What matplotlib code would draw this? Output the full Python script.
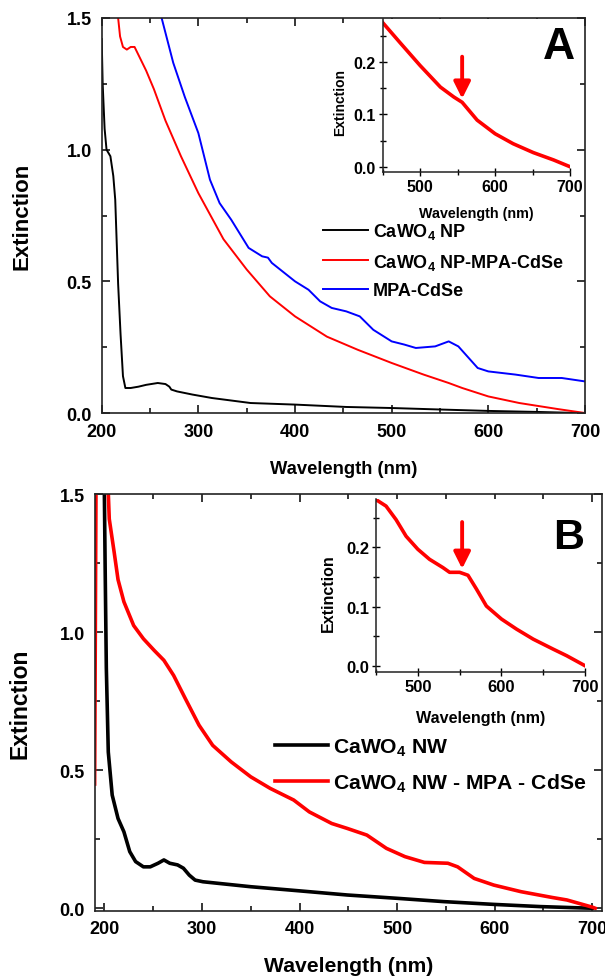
import matplotlib
matplotlib.use("Agg")
import matplotlib.pyplot as plt
from matplotlib.ticker import MultipleLocator

plt.rcParams['font.family'] = ['Liberation Sans', 'DejaVu Sans']
plt.rcParams['font.weight'] = 'bold'
plt.rcParams['axes.labelweight'] = 'bold'
plt.rcParams['mathtext.fontset'] = 'custom'
plt.rcParams['mathtext.rm'] = 'Liberation Sans:bold'
plt.rcParams['mathtext.it'] = 'Liberation Sans:bold'
plt.rcParams['mathtext.bf'] = 'Liberation Sans:bold'

# ---------------- Panel A data ----------------
wl_np = [200, 201, 203, 205, 209, 212, 214, 217, 219.5, 222, 224.5, 230, 238, 246, 258,
         266, 270, 272, 278, 294, 314, 354, 400, 453, 500, 553, 600, 652, 684, 700]
ext_np = [1.42, 1.25, 1.08, 1.0, 0.975, 0.9, 0.81, 0.49, 0.30, 0.14, 0.095, 0.095, 0.10, 0.107, 0.114,
          0.11, 0.10, 0.089, 0.082, 0.07, 0.057, 0.038, 0.032, 0.023, 0.019, 0.013, 0.008, 0.004, 0.001, 0.0]

wl_npcd = [212, 215, 217, 219, 222, 226, 230, 234, 238, 246, 254, 266, 282, 300, 326, 350, 374,
           400, 433, 465, 500, 533, 559, 573, 600, 632, 672, 700]
ext_npcd = [1.8, 1.6, 1.5, 1.43, 1.39, 1.38, 1.39, 1.39, 1.36, 1.30, 1.23, 1.11, 0.975, 0.835, 0.66,
            0.545, 0.443, 0.367, 0.29, 0.24, 0.19, 0.146, 0.114, 0.095, 0.063, 0.038, 0.015, 0.0]

wl_cdse = [255, 262, 274, 286, 300, 312, 322, 334, 352, 366, 372, 376, 400, 414, 426, 438, 453, 467,
           481, 500, 513, 525, 545, 559, 569, 589, 600, 628, 652, 676, 700]
ext_cdse = [1.6, 1.5, 1.33, 1.2, 1.063, 0.886, 0.797, 0.734, 0.627, 0.595, 0.59, 0.57, 0.50, 0.468,
            0.424, 0.399, 0.386, 0.367, 0.316, 0.272, 0.26, 0.247, 0.253, 0.272, 0.253, 0.171, 0.158,
            0.146, 0.133, 0.133, 0.12]

wl_ia = [450, 473, 500, 527, 545, 556, 576, 600, 624, 651, 678, 700]
ext_ia = [0.275, 0.237, 0.193, 0.152, 0.133, 0.123, 0.089, 0.063, 0.044, 0.027, 0.013, 0.0]
arrow_a = (556, 0.21, 0.13)

labels_a = ['CaWO$_\\mathrm{4}$ NP', 'CaWO$_\\mathrm{4}$ NP-MPA-CdSe', 'MPA-CdSe']

# ---------------- Panel B data ----------------
wl_nw = [199, 200, 200.8, 202, 204, 208, 214, 220, 226, 232, 240, 247, 255, 261, 267, 275, 281,
         287, 293, 301, 350, 400, 449, 500, 548, 599, 647, 700]
ext_nw = [1.7, 1.5, 1.23, 0.87, 0.566, 0.41, 0.325, 0.277, 0.205, 0.169, 0.15, 0.15, 0.163, 0.175,
          0.163, 0.157, 0.145, 0.12, 0.102, 0.096, 0.078, 0.063, 0.048, 0.036, 0.024, 0.014, 0.006, 0.0]

wl_nwcd = [190, 191.5, 193, 203, 205, 210, 214, 220, 230, 240, 251, 261, 271, 283, 297, 311, 330,
           350, 370, 394, 410, 433, 449, 469, 489, 508, 528, 552, 562, 579, 599, 627, 659, 674, 700, 703]
ext_nwcd = [0.45, 1.6, 1.7, 1.6, 1.41, 1.29, 1.19, 1.11, 1.024, 0.976, 0.934, 0.898, 0.843, 0.759,
            0.663, 0.59, 0.53, 0.476, 0.434, 0.392, 0.349, 0.307, 0.289, 0.265, 0.217, 0.187, 0.166,
            0.163, 0.15, 0.108, 0.084, 0.06, 0.039, 0.03, 0.004, 0.0]

wl_ib = [451, 462, 474, 486, 500, 514, 530, 538, 550, 560, 570, 582, 600, 618, 638, 662, 678, 700]
ext_ib = [0.28, 0.27, 0.247, 0.219, 0.197, 0.18, 0.166, 0.158, 0.158, 0.153, 0.13, 0.101, 0.079,
          0.062, 0.045, 0.028, 0.017, 0.0]
arrow_b = (553, 0.243, 0.164)

labels_b = ['CaWO$_\\mathrm{4}$ NW', 'CaWO$_\\mathrm{4}$ NW - MPA - CdSe']

RED = '#ff0000'
BLUE = '#0000ff'

fig = plt.figure(figsize=(6.05, 9.79), dpi=100)


def style_main(ax, ls):
    ax.xaxis.set_major_locator(MultipleLocator(100))
    ax.xaxis.set_minor_locator(MultipleLocator(50))
    ax.yaxis.set_major_locator(MultipleLocator(0.5))
    ax.yaxis.set_minor_locator(MultipleLocator(0.25))
    ax.tick_params(which='both', direction='in', top=True, right=True, width=1.1)
    ax.tick_params(which='major', length=6, labelsize=ls, pad=7)
    ax.tick_params(which='minor', length=3.5)
    for s in ax.spines.values():
        s.set_linewidth(1.2)
        s.set_color('#222222')


def style_inset(ax, ls):
    ax.spines['top'].set_visible(False)
    ax.spines['right'].set_visible(False)
    for s in ['left', 'bottom']:
        ax.spines[s].set_linewidth(1.1)
        ax.spines[s].set_color('#222222')
    ax.set_xlim(450, 700)
    ax.set_ylim(-0.01, 0.282)
    ax.xaxis.set_major_locator(MultipleLocator(100))
    ax.xaxis.set_minor_locator(MultipleLocator(50))
    ax.yaxis.set_major_locator(MultipleLocator(0.1))
    ax.yaxis.set_minor_locator(MultipleLocator(0.05))
    ax.tick_params(which='both', direction='inout', width=1.0)
    ax.tick_params(which='major', length=6, labelsize=ls, pad=2)
    ax.tick_params(which='minor', length=4)
    ax.set_facecolor('white')


# ---------------- Panel A ----------------
axA = fig.add_axes([0.1681, 0.5771, 0.7988, 0.4035])
axA.plot(wl_np, ext_np, color='black', lw=1.4, label=labels_a[0])
axA.plot(wl_npcd, ext_npcd, color=RED, lw=1.4, label=labels_a[1])
axA.plot(wl_cdse, ext_cdse, color=BLUE, lw=1.4, label=labels_a[2])
axA.set_xlim(200, 700)
axA.set_ylim(0, 1.5)
style_main(axA, 13)
axA.set_xlabel('Wavelength (nm)', fontsize=13.2)
axA.set_ylabel('Extinction', fontsize=16)
axA.xaxis.set_label_coords(0.5, -0.119)
axA.yaxis.set_label_coords(-0.144, 0.5)
axA.legend(loc='upper left', bbox_to_anchor=(0.458, 0.485), frameon=False, fontsize=13,
           handlelength=2.5, handletextpad=0.25, labelspacing=0.57, borderpad=0, borderaxespad=0)

insA = fig.add_axes([0.6326, 0.8233, 0.3096, 0.1563])
insA.plot(wl_ia, ext_ia, color=RED, lw=2.6)
style_inset(insA, 11.5)
insA.set_xlabel('Wavelength (nm)', fontsize=10.3)
insA.set_ylabel('Extinction', fontsize=10)
insA.xaxis.set_label_coords(0.5, -0.222)
insA.yaxis.set_label_coords(-0.19, 0.46)
insA.annotate('', xy=(arrow_a[0], arrow_a[2]), xytext=(arrow_a[0], arrow_a[1]),
              arrowprops=dict(arrowstyle='-|>,head_width=0.5,head_length=1.0', color=RED, lw=2.8,
                              shrinkA=0, shrinkB=0))

# ---------------- Panel B ----------------
axB = fig.add_axes([0.1564, 0.0687, 0.8387, 0.4256])
axB.plot(wl_nw, ext_nw, color='black', lw=2.6, label=labels_b[0])
axB.plot(wl_nwcd, ext_nwcd, color=RED, lw=2.6, label=labels_b[1])
axB.set_xlim(190, 710)
axB.set_ylim(-0.009, 1.5)
style_main(axB, 13)
axB.set_xlabel('Wavelength (nm)', fontsize=15.2)
axB.set_ylabel('Extinction', fontsize=16.5)
axB.xaxis.set_label_coords(0.5, -0.109)
axB.yaxis.set_label_coords(-0.125, 0.5)
axB.legend(loc='upper left', bbox_to_anchor=(0.3555, 0.4176), frameon=False, fontsize=15.2,
           handlelength=2.5, handletextpad=0.25, labelspacing=0.63, borderpad=0, borderaxespad=0)

insB = fig.add_axes([0.6215, 0.3129, 0.3455, 0.1764])
insB.plot(wl_ib, ext_ib, color=RED, lw=2.6)
style_inset(insB, 12)
insB.set_xlabel('Wavelength (nm)', fontsize=11.6)
insB.set_ylabel('Extinction', fontsize=11.5)
insB.xaxis.set_label_coords(0.5, -0.222)
insB.yaxis.set_label_coords(-0.19, 0.46)
insB.annotate('', xy=(arrow_b[0], arrow_b[2]), xytext=(arrow_b[0], arrow_b[1]),
              arrowprops=dict(arrowstyle='-|>,head_width=0.5,head_length=1.0', color=RED, lw=2.8,
                              shrinkA=0, shrinkB=0))

# panel letters (drawn on top of the insets)
fig.text(0.924, 0.951, 'A', fontsize=32, fontweight='bold', ha='center', va='center', zorder=10)
fig.text(0.9405, 0.4505, 'B', fontsize=31, fontweight='bold', ha='center', va='center', zorder=10)

fig.savefig('out.png', dpi=100)
